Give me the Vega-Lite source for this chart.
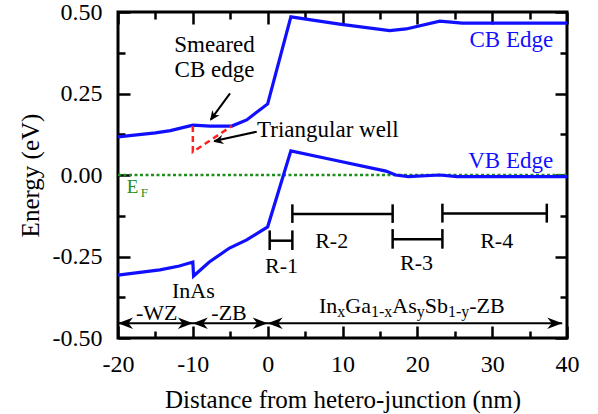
{
  "$schema": "https://vega.github.io/schema/vega-lite/v6.json",
  "width": 449,
  "height": 326,
  "autosize": {"type": "none"},
  "padding": {"left": 118, "top": 12, "right": 31, "bottom": 76},
  "background": "white",
  "config": {
    "font": "Times New Roman",
    "view": {"stroke": "black", "strokeWidth": 3},
    "axis": {
      "labelFont": "Times New Roman",
      "labelFontSize": 24,
      "labelColor": "black",
      "titleFont": "Times New Roman",
      "titleFontSize": 25,
      "titleFontWeight": "normal",
      "titleColor": "black",
      "tickColor": "black",
      "tickWidth": 2.5,
      "domain": false,
      "grid": false,
      "labelOverlap": false,
      "labelFlush": false
    },
    "text": {"font": "Times New Roman"}
  },
  "resolve": {"axis": {"x": "independent", "y": "independent"}},
  "layer": [
    {
      "data": {"values": [{"x": -20, "y": 0}, {"x": 40, "y": 0}]},
      "mark": {"type": "line", "color": "#1f8f1f", "strokeWidth": 2.5, "strokeDash": [3, 2.5]},
      "encoding": {
        "x": {"field": "x", "type": "quantitative", "scale": {"domain": [-20, 40], "nice": false, "zero": false},
          "axis": {"orient": "top", "values": [-20, -15, -10, -5, 0, 5, 10, 15, 20, 25, 30, 35, 40], "labels": false, "title": null,
            "tickSize": {"condition": {"test": "datum.value % 10 !== 0", "value": -7}, "value": -12}}},
        "y": {"field": "y", "type": "quantitative", "scale": {"domain": [-0.5, 0.5], "nice": false, "zero": false},
          "axis": {"orient": "right", "values": [-0.5, -0.375, -0.25, -0.125, 0, 0.125, 0.25, 0.375, 0.5], "labels": false, "title": null,
            "tickSize": {"condition": {"test": "abs(datum.value*4 - round(datum.value*4)) > 0.001", "value": -7}, "value": -12}}}
      }
    },
    {
      "data": {"values": [
        {"series": "CB", "i": 1, "x": -20, "y": 0.117},
        {"series": "CB", "i": 2, "x": -15, "y": 0.129},
        {"series": "CB", "i": 3, "x": -13, "y": 0.136},
        {"series": "CB", "i": 4, "x": -10, "y": 0.153},
        {"series": "CB", "i": 5, "x": -7.7, "y": 0.150},
        {"series": "CB", "i": 6, "x": -4.8, "y": 0.150},
        {"series": "CB", "i": 7, "x": -2.8, "y": 0.169},
        {"series": "CB", "i": 8, "x": 0, "y": 0.218},
        {"series": "CB", "i": 9, "x": 3.1, "y": 0.485},
        {"series": "CB", "i": 10, "x": 9.6, "y": 0.463},
        {"series": "CB", "i": 11, "x": 16.3, "y": 0.443},
        {"series": "CB", "i": 12, "x": 18.5, "y": 0.448},
        {"series": "CB", "i": 13, "x": 23, "y": 0.472},
        {"series": "CB", "i": 14, "x": 26, "y": 0.466},
        {"series": "CB", "i": 15, "x": 40, "y": 0.466},
        {"series": "VB", "i": 1, "x": -20, "y": -0.307},
        {"series": "VB", "i": 2, "x": -14.4, "y": -0.291},
        {"series": "VB", "i": 3, "x": -11.8, "y": -0.279},
        {"series": "VB", "i": 4, "x": -10, "y": -0.267},
        {"series": "VB", "i": 5, "x": -9.9, "y": -0.310},
        {"series": "VB", "i": 6, "x": -7.8, "y": -0.267},
        {"series": "VB", "i": 7, "x": -5.1, "y": -0.224},
        {"series": "VB", "i": 8, "x": -2.8, "y": -0.199},
        {"series": "VB", "i": 9, "x": 0, "y": -0.159},
        {"series": "VB", "i": 10, "x": 3.1, "y": 0.074},
        {"series": "VB", "i": 11, "x": 8.2, "y": 0.049},
        {"series": "VB", "i": 12, "x": 15.8, "y": 0.012},
        {"series": "VB", "i": 13, "x": 17.1, "y": 0.0},
        {"series": "VB", "i": 14, "x": 18.8, "y": -0.005},
        {"series": "VB", "i": 15, "x": 23, "y": 0.0},
        {"series": "VB", "i": 16, "x": 25.3, "y": -0.005},
        {"series": "VB", "i": 17, "x": 40, "y": -0.005}
      ]},
      "mark": {"type": "line", "color": "#1010ff", "strokeWidth": 3.2},
      "encoding": {
        "x": {"field": "x", "type": "quantitative",
          "axis": {"orient": "bottom", "values": [-20, -15, -10, -5, 0, 5, 10, 15, 20, 25, 30, 35, 40],
            "labelExpr": "datum.value % 10 === 0 ? '' + datum.value : ''",
            "labelPadding": 26, "title": "Distance from hetero-junction (nm)", "titlePadding": 6,
            "tickSize": {"condition": {"test": "datum.value % 10 !== 0", "value": -7}, "value": -12}}},
        "y": {"field": "y", "type": "quantitative",
          "axis": {"orient": "left", "values": [-0.5, -0.375, -0.25, -0.125, 0, 0.125, 0.25, 0.375, 0.5],
            "labelExpr": "abs(datum.value*4 - round(datum.value*4)) < 0.001 ? replace(format(datum.value, '.2f'), '\u2212', '-') : ''",
            "labelPadding": 28, "title": "Energy (eV)", "titlePadding": 9,
            "tickSize": {"condition": {"test": "abs(datum.value*4 - round(datum.value*4)) > 0.001", "value": -7}, "value": -12}}},
        "detail": {"field": "series"},
        "order": {"field": "i"}
      }
    },
    {
      "data": {"values": [{"i": 1, "x": -10, "y": 0.150}, {"i": 2, "x": -10, "y": 0.071}, {"i": 3, "x": -4.8, "y": 0.150}]},
      "mark": {"type": "line", "color": "#ff2020", "strokeWidth": 2.5, "strokeDash": [6, 4]},
      "encoding": {
        "x": {"field": "x", "type": "quantitative", "axis": null},
        "y": {"field": "y", "type": "quantitative", "axis": null},
        "order": {"field": "i"}
      }
    },
    {
      "data": {"values": [
        {"x": -5.03, "y": 0.2506, "x2": -7.6, "y2": 0.170},
        {"x": -1.46, "y": 0.1328, "x2": -7.15, "y2": 0.104},
        {"x": -20, "y": -0.4549, "x2": 39.36, "y2": -0.4549}
      ]},
      "mark": {"type": "rule", "color": "black", "strokeWidth": 2},
      "encoding": {
        "x": {"field": "x", "type": "quantitative", "axis": null},
        "y": {"field": "y", "type": "quantitative", "axis": null},
        "x2": {"field": "x2"},
        "y2": {"field": "y2"}
      }
    },
    {
      "data": {"values": [{"x": -7.70, "y": 0.1666}]},
      "mark": {"type": "point", "shape": "M0,0 L-0.45,1 L0,0.7 L0.45,1 Z", "size": 400, "angle": 216, "filled": true, "color": "black", "opacity": 1, "strokeWidth": 0},
      "encoding": {
        "x": {"field": "x", "type": "quantitative", "axis": null},
        "y": {"field": "y", "type": "quantitative", "axis": null}
      }
    },
    {
      "data": {"values": [{"x": -7.26, "y": 0.102}]},
      "mark": {"type": "point", "shape": "M0,0 L-0.45,1 L0,0.7 L0.45,1 Z", "size": 400, "angle": 257, "filled": true, "color": "black", "opacity": 1, "strokeWidth": 0},
      "encoding": {
        "x": {"field": "x", "type": "quantitative", "axis": null},
        "y": {"field": "y", "type": "quantitative", "axis": null}
      }
    },
    {
      "data": {"values": [{"x": -20, "y": -0.4549}, {"x": -10, "y": -0.4549}, {"x": 0, "y": -0.4549}]},
      "mark": {"type": "point", "shape": "M0,0 L1,-0.38 L0.7,0 L1,0.38 Z", "size": 900, "filled": true, "color": "black", "opacity": 1, "strokeWidth": 0},
      "encoding": {
        "x": {"field": "x", "type": "quantitative", "axis": null},
        "y": {"field": "y", "type": "quantitative", "axis": null}
      }
    },
    {
      "data": {"values": [{"x": -10, "y": -0.4549}, {"x": 0, "y": -0.4549}, {"x": 39.36, "y": -0.4549}]},
      "mark": {"type": "point", "shape": "M0,0 L-1,-0.38 L-0.7,0 L-1,0.38 Z", "size": 900, "filled": true, "color": "black", "opacity": 1, "strokeWidth": 0},
      "encoding": {
        "x": {"field": "x", "type": "quantitative", "axis": null},
        "y": {"field": "y", "type": "quantitative", "axis": null}
      }
    },
    {
      "data": {"values": [
        {"x": 0.27, "x2": 3.3, "y": -0.2015},
        {"x": 3.3, "x2": 16.7, "y": -0.12},
        {"x": 16.7, "x2": 23.35, "y": -0.197},
        {"x": 23.35, "x2": 37.3, "y": -0.118}
      ]},
      "mark": {"type": "rule", "color": "black", "strokeWidth": 2.5},
      "encoding": {
        "x": {"field": "x", "type": "quantitative", "axis": null},
        "x2": {"field": "x2"},
        "y": {"field": "y", "type": "quantitative", "axis": null}
      }
    },
    {
      "data": {"values": [
        {"x": 0.27, "y": -0.230, "y2": -0.170},
        {"x": 3.3, "y": -0.230, "y2": -0.170},
        {"x": 3.3, "y": -0.147, "y2": -0.090},
        {"x": 16.7, "y": -0.147, "y2": -0.090},
        {"x": 16.7, "y": -0.226, "y2": -0.166},
        {"x": 23.35, "y": -0.226, "y2": -0.166},
        {"x": 23.35, "y": -0.146, "y2": -0.088},
        {"x": 37.3, "y": -0.146, "y2": -0.088}
      ]},
      "mark": {"type": "rule", "color": "black", "strokeWidth": 2.5},
      "encoding": {
        "x": {"field": "x", "type": "quantitative", "axis": null},
        "y": {"field": "y", "type": "quantitative", "axis": null},
        "y2": {"field": "y2"}
      }
    },
    {
      "data": {"values": [
        {"x": 1.86, "y": -0.3015, "t": "R-1"},
        {"x": 8.55, "y": -0.225, "t": "R-2"},
        {"x": 19.9, "y": -0.291, "t": "R-3"},
        {"x": 30.6, "y": -0.225, "t": "R-4"},
        {"x": -9.93, "y": -0.378, "t": "InAs"},
        {"x": -14.83, "y": -0.4448, "t": "-WZ"},
        {"x": -5.16, "y": -0.4448, "t": "-ZB"}
      ]},
      "mark": {"type": "text", "fontSize": 22, "color": "black", "align": "center", "baseline": "alphabetic"},
      "encoding": {
        "x": {"field": "x", "type": "quantitative", "axis": null},
        "y": {"field": "y", "type": "quantitative", "axis": null},
        "text": {"field": "t"}
      }
    },
    {
      "data": {"values": [
        {"x": 6.86, "y": -0.424, "t": "In"},
        {"x": 10.37, "y": -0.424, "t": "Ga"},
        {"x": 16.66, "y": -0.424, "t": "As"},
        {"x": 20.99, "y": -0.424, "t": "Sb"},
        {"x": 26.94, "y": -0.424, "t": "-ZB"}
      ]},
      "mark": {"type": "text", "fontSize": 22, "color": "black", "align": "left", "baseline": "alphabetic"},
      "encoding": {
        "x": {"field": "x", "type": "quantitative", "axis": null},
        "y": {"field": "y", "type": "quantitative", "axis": null},
        "text": {"field": "t"}
      }
    },
    {
      "data": {"values": [
        {"x": 9.30, "y": -0.436, "t": "x"},
        {"x": 13.81, "y": -0.436, "t": "1-x"},
        {"x": 19.92, "y": -0.436, "t": "y"},
        {"x": 24.09, "y": -0.436, "t": "1-y"}
      ]},
      "mark": {"type": "text", "fontSize": 16, "color": "black", "align": "left", "baseline": "alphabetic"},
      "encoding": {
        "x": {"field": "x", "type": "quantitative", "axis": null},
        "y": {"field": "y", "type": "quantitative", "axis": null},
        "text": {"field": "t"}
      }
    },
    {
      "data": {"values": [
        {"x": -7.1, "y": 0.376, "t": "Smeared"},
        {"x": -7.1, "y": 0.302, "t": "CB edge"}
      ]},
      "mark": {"type": "text", "fontSize": 23, "color": "black", "align": "center", "baseline": "alphabetic"},
      "encoding": {
        "x": {"field": "x", "type": "quantitative", "axis": null},
        "y": {"field": "y", "type": "quantitative", "axis": null},
        "text": {"field": "t"}
      }
    },
    {
      "data": {"values": [{"x": -1.42, "y": 0.1156, "t": "Triangular well"}]},
      "mark": {"type": "text", "fontSize": 23, "color": "black", "align": "left", "baseline": "alphabetic"},
      "encoding": {
        "x": {"field": "x", "type": "quantitative", "axis": null},
        "y": {"field": "y", "type": "quantitative", "axis": null},
        "text": {"field": "t"}
      }
    },
    {
      "data": {"values": [
        {"x": 38.16, "y": 0.3936, "t": "CB Edge"},
        {"x": 38.16, "y": 0.0205, "t": "VB Edge"}
      ]},
      "mark": {"type": "text", "fontSize": 23, "color": "#1010ff", "align": "right", "baseline": "alphabetic"},
      "encoding": {
        "x": {"field": "x", "type": "quantitative", "axis": null},
        "y": {"field": "y", "type": "quantitative", "axis": null},
        "text": {"field": "t"}
      }
    },
    {
      "data": {"values": [{"x": -18.84, "y": -0.055, "t": "E"}]},
      "mark": {"type": "text", "fontSize": 19, "color": "#1f8f1f", "align": "left", "baseline": "alphabetic"},
      "encoding": {
        "x": {"field": "x", "type": "quantitative", "axis": null},
        "y": {"field": "y", "type": "quantitative", "axis": null},
        "text": {"field": "t"}
      }
    },
    {
      "data": {"values": [{"x": -16.95, "y": -0.0675, "t": "F"}]},
      "mark": {"type": "text", "fontSize": 13, "color": "#1f8f1f", "align": "left", "baseline": "alphabetic"},
      "encoding": {
        "x": {"field": "x", "type": "quantitative", "axis": null},
        "y": {"field": "y", "type": "quantitative", "axis": null},
        "text": {"field": "t"}
      }
    }
  ]
}
